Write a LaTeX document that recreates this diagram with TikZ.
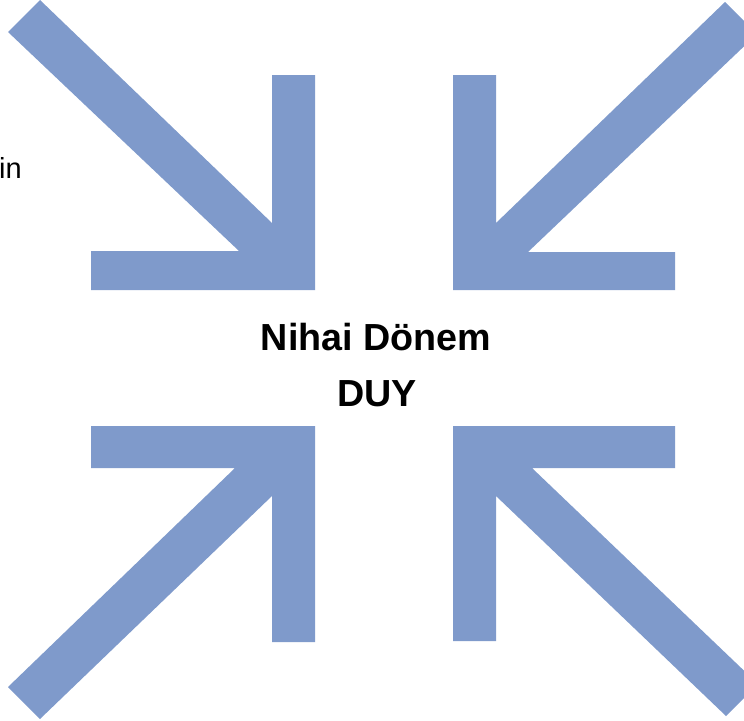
\documentclass[tikz,border=0pt]{standalone}
\usepackage{fontspec}
\setmainfont{Liberation Sans}
\usepackage{tikz}
\definecolor{arrowblue}{RGB}{127,154,203}
\tikzset{
  bigarrow/.style={fill=arrowblue, draw=none},
  titletext/.style={anchor=base, inner sep=0pt, font=\fontsize{37.7}{45}\selectfont\bfseries},
  sidetext/.style={anchor=base east, inner sep=0pt, font=\fontsize{29}{35}\selectfont}
}
\begin{document}
\begin{tikzpicture}[x=1pt, y=-1pt]
\useasboundingbox (0,0) rectangle (744,720);
\clip (0,0) rectangle (744,720);
\fill[bigarrow] (40,0) -- (272,223) -- (272,75) -- (315,75) -- (315,290) -- (91,290) -- (91,251) -- (239,251) -- (8,32) -- cycle;
\fill[bigarrow] (725,2) -- (496,223) -- (496,75) -- (453,75) -- (453,290) -- (675,290) -- (675,252) -- (528,252) -- (757,34) -- cycle;
\fill[bigarrow] (8,687) -- (235,468) -- (91,468) -- (91,426) -- (315,426) -- (315,642) -- (272,642) -- (272,496) -- (40,719) -- cycle;
\fill[bigarrow] (726,716) -- (496,496) -- (496,641) -- (453,641) -- (453,426) -- (675,426) -- (675,468) -- (532,468) -- (758,684) -- cycle;
\node[titletext] (title) at (376,350) {Nihai Dönem};
\node[titletext] (subtitle) at (377,406) {DUY};
\node[sidetext] (side) at (22,178) {in};
\end{tikzpicture}
\end{document}
